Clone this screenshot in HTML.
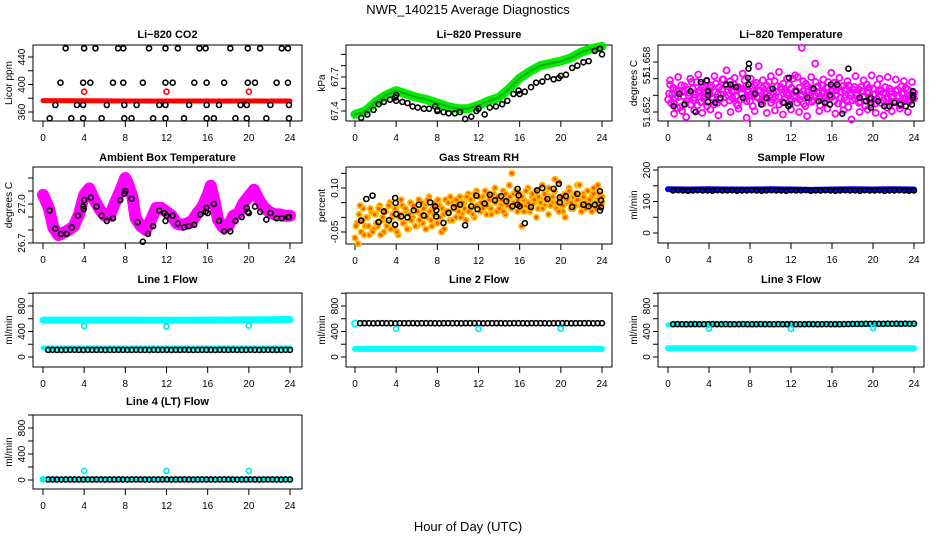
<!DOCTYPE html>
<html><head><meta charset="utf-8">
<style>
html,body{margin:0;padding:0;background:#fff;}
svg{display:block;font-family:"Liberation Sans",Arial,sans-serif;}
</style></head>
<body>
<svg id="chart" width="936" height="540" viewBox="0 0 936 540" xmlns="http://www.w3.org/2000/svg">
<rect x="0" y="0" width="936" height="540" fill="#fff"/>
<text x="468" y="14" font-size="13" text-anchor="middle">NWR_140215  Average Diagnostics</text>
<text x="468" y="531" font-size="13" text-anchor="middle">Hour of Day (UTC)</text>
</svg>
<script>
// ---------- data ----------
const xTicks = [0,4,8,12,16,20,24];

// Li-820 CO2
const co2BlackH = [2.2,4.0,5.1,7.3,7.8,10.3,11.9,13.1,15.2,15.8,18.2,19.9,21.1,23.2,23.8,
 1.7,3.9,4.6,6.8,7.8,9.7,11.9,12.6,14.7,15.9,17.6,19.9,20.6,22.7,23.8,
 1.2,3.3,3.9,6.2,7.9,9.1,11.3,11.9,14.2,15.9,17.1,19.2,19.8,22.1,23.9,
 0.65,2.75,3.9,5.7,7.9,8.6,10.7,11.9,13.7,15.9,16.6,18.7,19.8,21.7,23.9];
const co2BlackV = [452.7,452.7,452.7,452.7,452.7,452.7,452.7,452.7,452.7,452.7,452.7,452.7,452.7,452.7,452.7,
 402.6,402.6,402.6,402.6,402.6,402.6,402.6,402.6,402.6,402.6,402.6,402.6,402.6,402.6,402.6,
 370.2,370.2,370.2,370.2,370.2,370.2,370.2,370.2,370.2,370.2,370.2,370.2,370.2,370.2,370.2,
 350.8,350.8,350.8,350.8,350.8,350.8,350.8,350.8,350.8,350.8,350.8,350.8,350.8,350.8,350.8];
const co2RedBandH = [0,4,8,12,16,20,24];
const co2RedBandV = [376.5,376.3,376.0,376.0,376.0,376.0,376.0];
const co2RedH = [4,12,20];
const co2RedV = [389.5,389.5,389.5];

// Li-820 Pressure
const pressGreenH = [0,1,2,3,4,5,6,7,8,9,10,11,12,13,14,15,16,17,18,19,20,21,22,23,24];
const pressGreenV = [67.37,67.40,67.48,67.54,67.58,67.55,67.52,67.50,67.47,67.44,67.42,67.42,67.45,67.49,67.52,67.60,67.69,67.75,67.80,67.82,67.84,67.87,67.92,67.95,67.97];
const pressBlackH = [0.6,1.2,1.8,2.3,2.8,3.4,3.9,4.0,4.0,4.6,5.1,5.6,6.1,6.7,7.2,7.8,8.0,8.0,8.6,9.1,9.7,10.2,10.7,11.3,11.8,12.0,12.6,13.1,13.7,14.3,14.8,15.4,15.9,16.0,16.5,17.1,17.6,18.2,18.7,19.3,19.8,20.0,20.5,21.1,21.6,22.2,22.7,23.3,23.8,24.0];
const pressBlackV = [67.34,67.37,67.41,67.46,67.48,67.50,67.52,67.54,67.49,67.48,67.47,67.44,67.43,67.42,67.42,67.44,67.41,67.40,67.39,67.38,67.38,67.39,67.33,67.35,67.40,67.42,67.37,67.43,67.44,67.46,67.49,67.55,67.58,67.55,67.57,67.61,67.65,67.66,67.70,67.68,67.69,67.71,67.72,67.78,67.80,67.83,67.84,67.93,67.95,67.90];

// Li-820 Temperature
const tempMagA = [51.6535,51.6553,51.6541,51.6530,51.6547,51.6538,51.6526,51.6544,51.6551,51.6533,
51.6540,51.6529,51.6548,51.6537,51.6556,51.6543,51.6532,51.6549,51.6539,51.6527,
51.6546,51.6552,51.6536,51.6544,51.6531,51.6550,51.6541,51.6559,51.6538,51.6547,
51.6534,51.6545,51.6553,51.6539,51.6528,51.6548,51.6542,51.6536,51.6551,51.6544,
51.6533,51.6549,51.6540,51.6555,51.6537,51.6546,51.6530,51.6543,51.6552,51.6539,
51.6547,51.6535,51.6557,51.6544,51.6538,51.6550,51.6532,51.6546,51.6541,51.6553,
51.6536,51.6560,51.6544,51.6531,51.6549,51.6539,51.6545,51.6527,51.6551,51.6540,
51.6548,51.6534,51.6556,51.6543,51.6537,51.6552,51.6545,51.6533,51.6549,51.6541,
51.6538,51.6555,51.6546,51.6530,51.6544,51.6551,51.6537,51.6548,51.6526,51.6543,
51.6534,51.6550,51.6540,51.6547,51.6532,51.6545,51.6539,51.6553,51.6536,51.6529,
51.6548,51.6541,51.6535,51.6546,51.6531,51.6543,51.6550,51.6537,51.6528,51.6545,
51.6539,51.6533,51.6547,51.6530,51.6542,51.6536,51.6549,51.6534,51.6540,51.6538,51.6543];
const tempMagB = [51.6542,51.6531,51.6549,51.6537,51.6525,51.6545,51.6552,51.6539,51.6530,51.6547,
51.6543,51.6556,51.6534,51.6541,51.6528,51.6546,51.6553,51.6536,51.6544,51.6532,
51.6549,51.6538,51.6529,51.6554,51.6542,51.6535,51.6547,51.6531,51.6551,51.6540,
51.6557,51.6537,51.6545,51.6530,51.6550,51.6535,51.6548,51.6558,51.6533,51.6546,
51.6541,51.6527,51.6552,51.6538,51.6545,51.6533,51.6549,51.6536,51.6542,51.6556,
51.6531,51.6544,51.6538,51.6551,51.6529,51.6547,51.6554,51.6537,51.6543,51.6533,
51.6549,51.6539,51.6546,51.6562,51.6535,51.6541,51.6530,51.6554,51.6544,51.6537,
51.6532,51.6546,51.6539,51.6551,51.6528,51.6542,51.6536,51.6549,51.6556,51.6538,
51.6545,51.6533,51.6541,51.6550,51.6537,51.6529,51.6546,51.6534,51.6552,51.6540,
51.6547,51.6536,51.6543,51.6531,51.6550,51.6538,51.6527,51.6544,51.6549,51.6535,
51.6541,51.6530,51.6553,51.6538,51.6546,51.6534,51.6542,51.6525,51.6548,51.6537,
51.6532,51.6545,51.6539,51.6528,51.6551,51.6543,51.6535,51.6547,51.6533,51.6540,51.6536];
const tempMagC = [51.6558,51.6518,51.6562,51.6521,51.6514,51.6560,51.6522,51.6565,51.6519,51.6557,
51.6523,51.6563,51.6516,51.6559,51.6570,51.6520,51.6561,51.6524,51.6566,51.6513,
51.6560,51.6521,51.6575,51.6558,51.6519,51.6563,51.6522,51.6568,51.6517,51.6560,
51.6523,51.6564,51.6520,51.6557,51.6515,51.6562,51.6578,51.6521,51.6559,51.6524,
51.6567,51.6518,51.6561,51.6522,51.6557,51.6511,51.6563,51.6520,51.6558,51.6523,
51.6564,51.6519,51.6560,51.6516,51.6562,51.6521,51.6559,51.6524,51.6557,51.6520,51.6556];
const tempOutH = [13.05];
const tempOutV = [51.6597];
const tempBlackH = [0.55,1.1,1.6,2.2,2.7,3.2,3.8,3.9,3.9,3.9,4.6,5.1,5.65,6.1,6.65,7.3,7.8,7.85,7.9,7.85,8.5,9.1,9.6,10.2,11.3,11.75,11.9,11.8,12.5,13.6,14.2,14.7,15.3,15.8,15.8,15.9,16.5,17.0,17.6,18.7,19.3,19.8,19.8,19.8,20.5,21.1,21.6,22.1,22.7,23.2,23.8,23.9,23.9,23.9];
const tempBlackV = [51.6527,51.6542,51.6529,51.6545,51.6520,51.6556,51.6558,51.6545,51.6540,51.6532,51.6531,51.6537,51.6553,51.6553,51.6550,51.6537,51.6561,51.6572,51.6578,51.6553,51.6542,51.6529,51.6537,51.6548,51.6531,51.6527,51.6529,51.6561,51.6545,51.6537,51.6548,51.6533,51.6531,51.6529,51.6540,51.6553,51.6553,51.6518,51.6572,51.6537,51.6533,51.6537,51.6531,51.6525,51.6533,51.6527,51.6527,51.6531,51.6529,51.6527,51.6529,51.6545,51.6540,51.6537];

// Ambient Box Temperature
const ambH = [0,0.3,0.6,1,1.5,2,2.5,3,3.5,4,4.5,5,5.5,6,6.5,7,7.5,8,8.3,8.7,9,9.5,10,10.5,11,11.5,12,12.5,13,13.5,14,14.5,15,15.5,16,16.3,16.7,17,17.5,18,18.5,19,19.5,20,20.5,21,21.5,22,22.5,23,23.5,24];
const ambV = [27.07,27.02,26.96,26.82,26.76,26.78,26.80,26.83,26.92,27.07,27.12,27.03,26.96,26.91,26.91,27.01,27.10,27.20,27.15,27.05,26.89,26.83,26.80,26.88,26.97,26.97,26.94,26.91,26.85,26.84,26.85,26.87,26.93,26.98,27.07,27.14,27.01,26.88,26.82,26.83,26.91,26.93,27.01,27.06,27.11,27.03,26.97,26.94,26.92,26.92,26.91,26.91];
const ambBlackH = [0.65,1.2,1.75,2.3,2.8,3.4,3.9,3.95,4.0,4.65,5.2,5.7,6.2,6.8,7.5,7.9,8.0,8.6,9.2,9.7,10.2,10.7,11.3,11.8,11.9,12.0,12.6,13.1,13.7,14.2,14.7,15.3,15.8,15.9,16.0,16.6,17.1,17.6,18.2,18.7,19.3,19.8,19.9,20.0,20.6,21.1,21.7,22.1,22.7,23.2,23.8,23.9];
const ambBlackV = [26.95,26.81,26.77,26.77,26.82,26.91,26.98,26.96,27.03,27.05,26.98,26.91,26.87,26.89,27.03,27.08,27.10,27.04,26.86,26.71,26.77,26.83,26.95,26.93,26.87,26.91,26.91,26.85,26.82,26.83,26.84,26.92,26.94,26.97,26.93,27.00,26.87,26.79,26.79,26.87,26.90,26.97,26.94,26.93,26.98,26.94,26.88,26.93,26.89,26.89,26.90,26.90];

// Gas Stream RH
const rhA = [-0.07,-0.02,0.01,-0.05,0.03,-0.03,0.00,-0.06,0.02,-0.04,
0.01,-0.03,0.04,-0.01,-0.05,0.02,-0.02,0.05,0.00,-0.04,
0.03,-0.06,0.01,0.04,-0.02,0.02,-0.04,0.05,0.00,0.03,
-0.03,0.06,0.01,-0.02,0.04,0.00,0.07,-0.01,0.03,0.05,
-0.02,0.04,-0.05,0.01,0.06,0.02,-0.01,0.05,0.03,0.00,
0.04,0.07,0.01,0.05,-0.01,0.08,0.03,0.06,0.00,0.09,
0.04,0.02,0.07,0.05,0.01,0.08,0.03,0.06,0.10,0.02,
0.07,0.04,0.09,0.01,0.06,0.11,0.03,0.08,0.05,0.02,
0.08,-0.03,0.06,0.04,0.10,0.02,0.07,0.05,0.09,0.03,
0.06,0.11,0.04,0.08,0.01,0.07,0.05,0.09,0.03,0.12,
0.06,0.02,0.08,0.05,0.10,0.03,0.07,0.04,0.11,0.06,
0.02,0.08,0.05,0.09,0.04,0.07,0.10,0.03,0.06,0.08,0.05];
const rhB = [-0.03,-0.09,0.04,-0.01,-0.06,0.00,-0.03,0.03,-0.05,0.01,
-0.02,0.03,-0.06,0.00,0.02,-0.03,0.04,-0.04,0.01,0.03,
-0.05,0.00,0.06,-0.02,0.03,-0.04,0.01,-0.01,0.04,-0.03,
0.02,-0.01,0.05,0.03,-0.04,0.06,0.02,-0.03,0.01,0.04,
0.06,0.00,0.03,-0.04,0.02,0.05,0.07,-0.01,0.04,0.06,
0.02,0.00,0.05,0.03,0.07,0.02,0.06,0.01,0.08,0.04,
0.07,0.05,0.03,0.09,0.04,0.06,0.01,0.08,0.05,0.07,
0.03,0.06,0.02,0.08,0.04,0.07,0.15,0.05,0.09,0.06,
0.04,0.07,0.02,0.09,0.05,0.03,0.08,0.06,0.00,0.07,
0.05,0.03,0.08,0.06,0.10,0.04,0.07,0.13,0.05,0.02,
0.07,0.04,0.00,0.06,0.09,0.05,0.03,0.08,0.06,0.11,
0.04,0.07,0.03,0.09,0.06,0.02,0.08,0.05,0.11,0.04,0.07];
const rhBlackH = [0.6,1.1,1.7,2.3,2.8,3.3,3.9,3.95,3.9,4.0,4.5,5.1,5.7,6.2,6.7,7.3,7.8,7.9,7.9,8.6,9.1,9.6,10.2,10.7,11.3,11.8,11.9,12.6,13.1,13.6,14.2,14.7,15.3,15.8,15.9,15.8,16.0,16.5,17.1,17.7,18.2,18.7,19.3,19.8,19.9,19.9,20.5,21.1,21.6,22.2,22.7,23.3,23.8,23.8,23.9,23.9];
const rhBlackV = [-0.011,0.0625,0.074,-0.016,0.02,-0.01,0.066,0.049,-0.025,0.011,0.003,0.0,0.024,0.043,0.006,0.051,0.0375,0.024,0.003,-0.019,0.015,0.034,0.043,-0.027,0.0375,0.074,0.028,0.047,0.077,0.058,0.072,0.055,0.0375,0.097,0.075,0.043,0.0375,-0.02,0.035,0.092,0.10,0.0625,0.097,0.114,0.068,0.051,0.072,0.035,0.08,0.043,0.0375,0.043,0.023,0.089,0.058,0.034];

// Sample Flow
const sampleBlueH = [0,2,4,6,8,10,12,14,16,18,20,22,24];
const sampleBlueV = [139,138,139,138,138,139,138,137,138,139,138,139,138];
const sampleBlackV = [135,136,135,134,135,136,135,135,134,136,135,135,136,134,135,135,136,135,134,135,136,135,135,134,136,135,135,136,134,135,135,136,135,134,135,136,135,135,134,136,135,135,136,134,135,135,136,135,134,135];

// Line flows
const flowBandH = [0,4,8,12,16,20,24];
const flow1HighV = [578,578,578,577,578,582,588];
const flow1LowV = [141,141,141,141,141,141,141];
const flow1BlackV = [112,113,112,111,112,113,112,112,111,113,112,112,113,111,112,112,113,112,111,112,113,112,112,111,113,112,112,113,111,112,112,113,112,111,112,113,112,112,111,113,112,112,113,111,112,112,113,112,111,112,113,112,112,111,113,112];
const flow1CyanH = [4,12,20];
const flow1CyanV = [486,478,492];
const flow2LowV = [128,128,128,128,128,128,128];
const flow2StartH = [0];
const flow2StartV = [525];
const flow2BlackV = [530,531,530,529,530,531,530,530,529,531,530,530,531,529,530,530,531,530,529,530,531,530,530,529,531,530,530,531,529,530,530,531,530,529,530,531,530,530,529,531,530,530,531,529,530,530,531,530,529,530,531,530,530,529,531,530];
const flow2CyanH = [4,12,20];
const flow2CyanV = [442,440,445];
const flow3LowV = [138,138,138,138,138,138,138];
const flow3MidV = [505,505,505,505,508,512,518];
const flow3BlackV = [515,516,515,514,515,516,515,515,514,516,515,515,516,514,515,515,516,515,514,515,516,515,515,514,516,515,515,516,514,515,515,516,515,514,515,516,515,515,514,516,517,518,518,519,520,520,521,520,521,522,521,522,521,522,521,522];
const flow3CyanH = [4,12,20];
const flow3CyanV = [445,440,455];
const flow4BandV = [5,5,5,5,5,5,5];
const flow4BlackV = [8,9,8,7,8,9,8,8,7,9,8,8,9,7,8,8,9,8,7,8,9,8,8,7,9,8,8,9,7,8,8,9,8,7,8,9,8,8,7,9,8,8,9,7,8,8,9,8,7,8,9,8,8,7,9,8];
const flow4CyanH = [0,4,12,20];
const flow4CyanV = [10,140,140,140];

// ---------- drawing ----------
const NS = "http://www.w3.org/2000/svg";
const svg = document.getElementById("chart");
function mk(tag, attrs, parent){
  const e = document.createElementNS(NS, tag);
  for (const k in attrs) e.setAttribute(k, attrs[k]);
  (parent||svg).appendChild(e);
  return e;
}
function hoursFor(vals, a, b){ const n = vals.length; return vals.map((v,i)=> a + (b-a)*i/(n-1)); }

function panel(cfg){
  const g = mk("g", {});
  
  
  const [l,t,r,b] = cfg.box;
  const sx = h => cfg.xp[0] + (h-0)*(cfg.xp[1]-cfg.xp[0])/24;
  const sy = v => cfg.yp[0] + (v-cfg.yv[0])*(cfg.yp[1]-cfg.yp[0])/(cfg.yv[1]-cfg.yv[0]);
  const frame = mk("rect", {x:l, y:t, width:r-l, height:b-t, fill:"none", stroke:"#000", "stroke-width":1}, g);
  
  
  const tt = mk("text", {x:(l+r)/2, y:cfg.ty, "font-size":11, "font-weight":"bold", "text-anchor":"middle"}, g);
  tt.textContent = cfg.title;
  
  
  const yl = mk("text", {x:0, y:0, "font-size":10, "text-anchor":"middle", transform:`translate(${l-21},${(t+b)/2}) rotate(-90)`}, g);
  yl.textContent = cfg.ylab;
  
  
  mk("line", {x1:sx(xTicks[0]), x2:sx(xTicks[xTicks.length-1]), y1:b, y2:b, stroke:"#000"}, g);
  xTicks.forEach(h=>{
    mk("line", {x1:sx(h), x2:sx(h), y1:b, y2:b+6, stroke:"#000"}, g);
    const tx = mk("text", {x:sx(h), y:b+20, "font-size":10, "text-anchor":"middle"}, g);
    tx.textContent = String(h);
    
    
  });
  cfg.yt.forEach((v,i)=>{
    const py = sy(v);
    mk("line", {x1:l-5, x2:l, y1:py, y2:py, stroke:"#000"}, g);
    const lab = cfg.yl[i];
    if (lab){
      const ty = mk("text", {x:0, y:0, "font-size":10, "text-anchor":"middle", transform:`translate(${l-8},${py}) rotate(-90)`}, g);
      ty.textContent = lab;
      
      
    }
  });
  return {g, sx, sy};
}
function points(P, hs, vs, color, name, r, sw, fill){
  const g = mk("g", {}, P.g);
  
  
  const n = Math.min(hs.length, vs.length);
  for (let i=0;i<n;i++){
    const c = mk("circle", {cx:P.sx(hs[i]), cy:P.sy(vs[i]), r:r||2.5, fill:fill||"none", stroke:color, "stroke-width":sw||1.6}, g);
    
    
  }
}
function band(P, hs, vs, color, width, name){
  const pts = hs.map((h,i)=>P.sx(h)+","+P.sy(vs[i])).join(" ");
  const pl = mk("polyline", {points:pts, fill:"none", stroke:color, "stroke-width":width, "stroke-linejoin":"round", "stroke-linecap":"round"}, P.g);
  
  
}

const C2p = [355,602];
const C3p = [668,914];

// Row 1
const pCO2 = panel({name:"co2-panel", title:"Li\u2212820 CO2", ylab:"Licor ppm", box:[33,45,302,121], xp:[43,290], ty:38,
  yv:[440,360], yp:[57,112], yt:[360,380,400,420,440], yl:["360","","400","","440"]});
band(pCO2, co2RedBandH, co2RedBandV, "#ff0000", 5, "co2-red-band");
points(pCO2, co2BlackH, co2BlackV, "#000", "co2-black-points");
points(pCO2, co2RedH, co2RedV, "#ff0000", "co2-red-points");

const pPress = panel({name:"pressure-panel", title:"Li\u2212820 Pressure", ylab:"kPa", box:[346,45,612,121], xp:C2p, ty:38,
  yv:[67.7,67.4], yp:[77,111], yt:[67.4,67.5,67.6,67.7,67.8,67.9], yl:["67.4","","","67.7","",""]});
band(pPress, pressGreenH, pressGreenV, "#00ee00", 9, "pressure-green-band");
band(pPress, pressGreenH, pressGreenV, "#11aa11", 2, "pressure-green-core");
points(pPress, pressBlackH, pressBlackV, "#000", "pressure-black-points");

const pTemp = panel({name:"li820-temperature-panel", title:"Li\u2212820 Temperature", ylab:"degrees C", box:[658,45,924,121], xp:C3p, ty:38,
  yv:[51.658,51.652], yp:[62,112], yt:[51.652,51.654,51.656,51.658], yl:["51.652","","51","51.658"]});
points(pTemp, hoursFor(tempMagC,0.2,23.8), tempMagC, "#ff00ff", "temperature-magenta-c", 3, 1.8);
points(pTemp, hoursFor(tempMagA,0,24), tempMagA, "#ff00ff", "temperature-magenta-a", 3, 1.8);
points(pTemp, hoursFor(tempMagB,0.1,24), tempMagB, "#ff00ff", "temperature-magenta-b", 3, 1.8);
points(pTemp, tempOutH, tempOutV, "#ff00ff", "temperature-magenta-outlier", 3, 1.8);
points(pTemp, tempBlackH, tempBlackV, "#000", "temperature-black-points");

// Row 2
const pAmb = panel({name:"ambient-temperature-panel", title:"Ambient Box Temperature", ylab:"degrees C", box:[33,167,302,243], xp:[43,290], ty:161,
  yv:[27.0,26.7], yp:[204,243], yt:[26.7,26.8,26.9,27.0,27.1,27.2], yl:["26.7","","","27.0","",""]});
band(pAmb, ambH, ambV, "#ff00ff", 12, "ambient-magenta-band");
points(pAmb, ambBlackH, ambBlackV, "#000", "ambient-black-points");

const pRH = panel({name:"rh-panel", title:"Gas Stream RH", ylab:"percent", box:[346,167,612,244], xp:C2p, ty:161,
  yv:[0.10,-0.05], yp:[188,232], yt:[-0.05,0,0.05,0.10,0.15], yl:["-0.05","","","0.10",""]});
points(pRH, hoursFor(rhA,0,24), rhA, "#ffbb00", "rh-orange-a", 2.6, 1.8, "#ff5500");
points(pRH, hoursFor(rhB,0.1,24), rhB, "#ffbb00", "rh-orange-b", 2.6, 1.8, "#ff5500");
points(pRH, rhBlackH, rhBlackV, "#000", "rh-black-points");

const pSamp = panel({name:"sample-flow-panel", title:"Sample Flow", ylab:"ml/min", box:[658,167,924,243], xp:C3p, ty:161,
  yv:[200,0], yp:[170,233], yt:[0,50,100,150,200], yl:["0","","100","","200"]});
band(pSamp, sampleBlueH, sampleBlueV, "#0000ff", 6, "sample-blue-band");
points(pSamp, hoursFor(sampleBlackV,0.5,24), sampleBlackV, "#000", "sample-black-points");

// Row 3
const flowT = [0,200,400,600,800,1000], flowL = ["0","","400","","800",""];
const pF1 = panel({name:"line1-flow-panel", title:"Line 1 Flow", ylab:"ml/min", box:[33,293,302,367], xp:[43,290], ty:283,
  yv:[800,0], yp:[306,357], yt:flowT, yl:flowL});
band(pF1, flowBandH, flow1HighV, "#00ffff", 7, "line1-cyan-high");
band(pF1, flowBandH, flow1LowV, "#00ffff", 5, "line1-cyan-low");
points(pF1, hoursFor(flow1BlackV,0.5,24), flow1BlackV, "#000", "line1-black-points");
points(pF1, flow1CyanH, flow1CyanV, "#00e5e5", "line1-cyan-points");

const pF2 = panel({name:"line2-flow-panel", title:"Line 2 Flow", ylab:"ml/min", box:[346,293,612,367], xp:C2p, ty:283,
  yv:[800,0], yp:[306,357], yt:flowT, yl:flowL});
band(pF2, flowBandH, flow2LowV, "#00ffff", 6, "line2-cyan-low");
points(pF2, flow2StartH, flow2StartV, "#00ffff", "line2-cyan-start", 3, 2);
points(pF2, hoursFor(flow2BlackV,0.5,24), flow2BlackV, "#000", "line2-black-points");
points(pF2, flow2CyanH, flow2CyanV, "#00e5e5", "line2-cyan-points");

const pF3 = panel({name:"line3-flow-panel", title:"Line 3 Flow", ylab:"ml/min", box:[658,293,924,367], xp:C3p, ty:283,
  yv:[800,0], yp:[306,357], yt:flowT, yl:flowL});
band(pF3, flowBandH, flow3LowV, "#00ffff", 6, "line3-cyan-low");
band(pF3, flowBandH, flow3MidV, "#00ffff", 5, "line3-cyan-mid");
points(pF3, hoursFor(flow3BlackV,0.5,24), flow3BlackV, "#000", "line3-black-points");
points(pF3, flow3CyanH, flow3CyanV, "#00e5e5", "line3-cyan-points");

// Row 4
const pF4 = panel({name:"line4-flow-panel", title:"Line 4 (LT) Flow", ylab:"ml/min", box:[33,415,302,489], xp:[43,290], ty:405,
  yv:[800,0], yp:[428,480], yt:flowT, yl:flowL});
band(pF4, flowBandH, flow4BandV, "#00ffff", 4, "line4-cyan-band");
points(pF4, hoursFor(flow4BlackV,0.5,24), flow4BlackV, "#000", "line4-black-points");
points(pF4, flow4CyanH, flow4CyanV, "#00e5e5", "line4-cyan-points");
</script>
</body></html>
